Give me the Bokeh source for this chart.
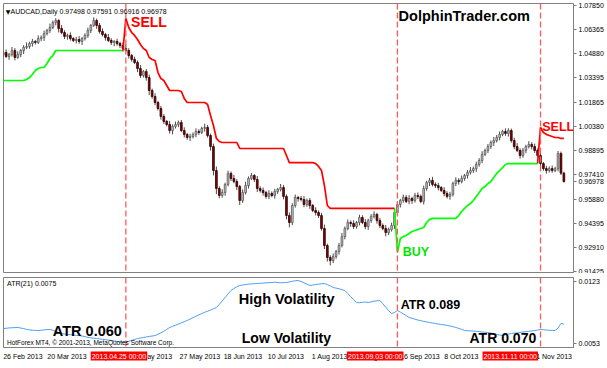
import numpy as np
from bokeh.plotting import figure
from bokeh.models import Range1d, FixedTicker, PrintfTickFormatter, Span, Label, ColumnDataSource
from bokeh.layouts import column
from bokeh.embed import file_html
from bokeh.resources import INLINE

# ---------------- data ----------------
header_text = "AUDCAD,Daily  0.97498 0.97591 0.96916 0.96978"
atr_header = "ATR(21) 0.0075"
copyright_text = "HotForex MT4, \u00a9 2001-2013, MetaQuotes Software Corp."

first_open = 1.0480
close = [
    1.0495, 1.0470, 1.0482, 1.0507, 1.0464, 1.0482, 1.0507, 1.0526, 1.0532, 1.0550,
    1.0563, 1.0557, 1.0581, 1.0587, 1.0612, 1.0631, 1.0649, 1.0680, 1.0692, 1.0643,
    1.0618, 1.0594, 1.0600, 1.0581, 1.0569, 1.0575, 1.0563, 1.0581, 1.0600, 1.0631,
    1.0662, 1.0692, 1.0662, 1.0625, 1.0606, 1.0587, 1.0569, 1.0557, 1.0563, 1.0550,
    1.0538, 1.0520, 1.0507, 1.0476, 1.0452, 1.0433, 1.0396, 1.0353, 1.0377, 1.0340,
    1.0260, 1.0223, 1.0186, 1.0149, 1.0100, 1.0069, 1.0050, 1.0013, 1.0038, 1.0050,
    1.0063, 1.0013, 0.9989, 0.9970, 0.9976, 0.9989, 1.0007, 1.0001, 1.0026, 1.0032,
    0.9982, 0.9914, 0.9766, 0.9655, 0.9612, 0.9630, 0.9680, 0.9748, 0.9717, 0.9698,
    0.9667, 0.9581, 0.9630, 0.9673, 0.9717, 0.9735, 0.9711, 0.9655, 0.9643, 0.9630,
    0.9606, 0.9624, 0.9612, 0.9636, 0.9649, 0.9661, 0.9606, 0.9488, 0.9445, 0.9550,
    0.9600, 0.9593, 0.9587, 0.9556, 0.9581, 0.9550, 0.9519, 0.9507, 0.9488, 0.9408,
    0.9303, 0.9229, 0.9210, 0.9235, 0.9266, 0.9303, 0.9358, 0.9408, 0.9445, 0.9439,
    0.9420, 0.9445, 0.9476, 0.9445, 0.9420, 0.9457, 0.9482, 0.9495, 0.9457, 0.9426,
    0.9408, 0.9383, 0.9402, 0.9426, 0.9507, 0.9556, 0.9581, 0.9600, 0.9575, 0.9593,
    0.9581, 0.9612, 0.9606, 0.9575, 0.9655, 0.9692, 0.9705, 0.9680, 0.9673, 0.9661,
    0.9643, 0.9624, 0.9606, 0.9618, 0.9686, 0.9705, 0.9698, 0.9717, 0.9735, 0.9754,
    0.9766, 0.9778, 0.9803, 0.9828, 0.9865, 0.9890, 0.9914, 0.9939, 0.9951, 0.9970,
    0.9989, 1.0007, 0.9995, 1.0013, 0.9951, 0.9914, 0.9890, 0.9859, 0.9890, 0.9914,
    0.9927, 0.9914, 0.9890, 0.9859, 0.9809, 0.9778, 0.9766, 0.9778, 0.9766, 0.9778,
    0.9871, 0.97498, 0.96978,
]
# upper / lower shadows beyond the body, in pips
up_pips = [
    12, 18, 10, 22, 15, 20, 9, 14, 25, 11,
    16, 8, 20, 13, 18, 10, 24, 12, 15, 9,
    22, 14, 11, 19, 8, 16, 21, 10, 13, 17,
    9, 20, 12, 15, 18, 10, 22, 14, 8, 16,
    11, 19, 25, 14, 10, 17, 13, 21, 9, 15,
    18, 12, 20, 10, 16, 14, 9, 22, 13, 18,
    11, 15, 20, 8, 17, 12, 19, 14, 10, 23,
    16, 12, 18, 25, 14, 20, 11, 17, 13, 22,
    15, 10, 19, 24, 12, 16, 9, 21, 14, 18,
    11, 20, 13, 17, 10, 22, 15, 12, 19, 14,
    18, 9, 16, 21, 12, 15, 10, 20, 13, 17,
    24, 11, 14, 19, 10, 16, 22, 12, 18, 13,
    20, 9, 17, 14, 21, 11, 15, 19, 10, 16,
    13, 22, 12, 18, 15, 20, 10, 17, 14, 21,
    11, 16, 19, 12, 18, 10, 15, 22, 13, 17,
    9, 20, 14, 16, 11, 19, 13, 18, 10, 15,
    21, 12, 17, 14, 20, 11, 16, 13, 22, 15,
    18, 10, 19, 14, 12, 17, 21, 13, 16, 11,
    20, 14, 18, 12, 15, 10, 17, 13, 19, 11,
    16, 12, 9,
]
dn_pips = [
    15, 10, 20, 12, 18, 9, 16, 22, 11, 14,
    19, 13, 10, 17, 21, 12, 15, 9, 18, 25,
    11, 16, 20, 13, 10, 18, 14, 22, 12, 15,
    17, 9, 21, 14, 12, 19, 10, 16, 23, 13,
    15, 20, 11, 18, 14, 10, 22, 16, 13, 19,
    28, 14, 17, 12, 20, 15, 11, 18, 24, 13,
    16, 10, 19, 14, 22, 12, 17, 15, 10, 20,
    13, 25, 30, 35, 18, 14, 20, 12, 16, 11,
    22, 28, 15, 12, 18, 10, 16, 21, 13, 19,
    14, 17, 11, 20, 15, 12, 18, 24, 30, 16,
    13, 19, 12, 17, 14, 21, 10, 18, 15, 13,
    22, 25, 30, 16, 14, 19, 12, 17, 11, 20,
    15, 13, 18, 10, 16, 21, 14, 12, 19, 15,
    11, 24, 16, 13, 20, 12, 18, 14, 10, 17,
    21, 13, 16, 11, 19, 14, 22, 12, 15, 18,
    10, 17, 13, 20, 12, 16, 19, 11, 14, 18,
    12, 15, 20, 13, 17, 10, 16, 14, 21, 12,
    18, 11, 15, 19, 13, 16, 10, 20, 14, 17,
    12, 18, 15, 11, 16, 13, 19, 12, 14, 10,
    17, 12, 6,
]

# ATR trailing stop (start bar index, per-bar values)
green1_start = 0
green1 = [1.0322] * 8 + [1.0328, 1.0340, 1.0359, 1.0384, 1.0396, 1.0402, 1.0402,
                         1.0427, 1.0458, 1.0476] + [1.0507] * 24
red1_start = 41
red1 = ([1.0507, 1.0705, 1.0649, 1.0618, 1.0600, 1.0575, 1.0544, 1.0520, 1.0507,
         1.0464, 1.0452, 1.0445, 1.0371, 1.0334, 1.0322, 1.0291] + [1.0260] * 4
        + [1.0254, 1.0211] + [1.0186] * 7 + [1.0174, 1.0106, 1.0044, 0.9964, 0.9945]
        + [0.9939] * 6 + [0.9902] * 16 + [0.9859] + [0.9815] * 9
        + [0.9809, 0.9791, 0.9766, 0.9673, 0.9550] + [0.9532] * 23)
green2_start = 134
green2 = ([0.9532, 0.9260, 0.9346, 0.9358, 0.9365, 0.9377, 0.9389, 0.9396, 0.9402,
           0.9408, 0.9414, 0.9445, 0.9464] + [0.9470] * 9
          + [0.9488, 0.9513, 0.9532, 0.9550, 0.9562, 0.9581, 0.9606, 0.9630, 0.9655,
             0.9667, 0.9686, 0.9698, 0.9723, 0.9748, 0.9766, 0.9784, 0.9803]
          + [0.9809] * 11)
red2_start = 183
red2 = [0.9809, 1.0032, 1.0001, 0.9989, 0.9982, 0.9976, 0.9970, 0.9970, 0.9964, 0.9964]

# ATR(21), in units of 1e-5
atr_e5 = [
    699, 702, 706, 708, 710, 711,
    705, 698, 690, 684, 680, 678, 677,
    680, 684, 687, 688,
    680, 668, 655, 643,
    638, 634, 630, 626, 622, 620,
    615, 608, 600, 595, 590, 586,
    582, 578, 574, 569, 564,
    560, 553, 547, 541,
    545, 555, 565, 575, 586,
    592, 598, 604, 610, 615, 620,
    635, 650, 668, 690, 711,
    724, 737, 750, 763, 776, 790,
    806, 822, 838, 853, 869,
    882, 895, 908, 922, 936,
    972, 1010, 1049, 1090, 1128,
    1150, 1170, 1185,
    1190, 1195, 1200, 1203, 1205, 1207,
    1210, 1212, 1215, 1217, 1219,
    1222, 1218, 1215, 1217, 1219,
    1225, 1232, 1238, 1241,
    1230, 1215, 1200, 1185,
    1190, 1196, 1200, 1204, 1207,
    1195, 1180, 1162,
    1155, 1148, 1138, 1128,
    1095, 1060, 1025, 993,
    990, 995, 998, 993,
    1000, 1008, 1012, 1015,
    980, 940, 900, 869,
    880, 903,
    885, 865, 845, 824,
    815, 805, 795, 788, 780, 774, 767,
    762, 756, 750, 745, 740, 735,
    728, 720, 712, 700, 690, 677,
    675, 673, 670, 668, 665, 660, 657, 654,
    648, 640, 632, 626, 620,
    628, 636, 642, 648, 650, 654,
    660, 664, 668, 672, 677, 682, 688,
    686, 682, 680, 678, 677,
    705, 756, 750,
]

last_price = 0.96978
price_ticks = [1.07850, 1.06365, 1.04880, 1.03395, 1.01865, 1.00380, 0.98895,
               0.97410, 0.95880, 0.94395, 0.92910, 0.91425]
atr_ticks = [0.0123, 0.0053]
date_tick_idx = [0, 16, 32, 48, 64, 80, 96, 112, 128, 144, 160, 176, 192]
date_tick_labels = ["26 Feb 2013", "20 Mar 2013", "11 Apr 2013", "3 May 2013",
                    "27 May 2013", "18 Jun 2013", "10 Jul 2013", "1 Aug 2013",
                    "23 Aug 2013", "16 Sep 2013", "8 Oct 2013", "30 Oct 2013",
                    "21 Nov 2013"]
signal_idx = [42, 135, 184]
signal_labels = ["2013.04.25 00:00", "2013.09.03 00:00", "2013.11.11 00:00"]

# ---------------- derived ----------------
n = len(close)
lens = [len(up_pips), len(dn_pips), len(atr_e5)]
if any(l != n for l in lens):
    raise ValueError(f"length mismatch {n} {lens}")
opens = [first_open] + close[:-1]
tops = [max(o, c) for o, c in zip(opens, close)]
bots = [min(o, c) for o, c in zip(opens, close)]
highs = [t + u / 10000 for t, u in zip(tops, up_pips)]
lows = [b - d / 10000 for b, d in zip(bots, dn_pips)]
idx = list(range(n))
fills = ["#c4c4c4" if c >= o else "#8b0000" for o, c in zip(opens, close)]
lines = ["#5a5a5a" if c >= o else "#2a0000" for o, c in zip(opens, close)]


def expand(parts):
    arr = np.full(n, np.nan)
    for start, vals in parts:
        for k, v in enumerate(vals):
            arr[start + k] = v
    return arr


green_full = expand([(green1_start, green1), (green2_start, green2)])
red_full = expand([(red1_start, red1), (red2_start, red2)])
atr = np.array(atr_e5) / 100000.0

FONT = "Liberation Sans"
GRAY = "#808080"
W = 607
LB, RB = 3, 34
X0, X1 = 0.1, 195.3
xr = Range1d(X0, X1)
bar_px = (W - LB - RB) / (X1 - X0)
xr_dates = Range1d(X0, X0 + (W - LB) / bar_px)


def style_right_axis(ax, ticks, fmt):
    ax.ticker = FixedTicker(ticks=ticks)
    ax.formatter = PrintfTickFormatter(format=fmt)
    ax.axis_line_color = GRAY
    ax.major_tick_line_color = GRAY
    ax.major_tick_out = 3
    ax.major_tick_in = 0
    ax.minor_tick_out = 0
    ax.minor_tick_in = 0
    ax.major_label_standoff = 2
    ax.major_label_text_font = FONT
    ax.major_label_text_font_size = "7px"
    ax.major_label_text_color = "black"


# ---------------- main price panel ----------------
main = figure(width=W, height=273, x_range=xr, y_range=Range1d(0.91363, 1.07973),
              output_backend="svg", toolbar_location=None,
              min_border_left=LB, min_border_right=RB, min_border_top=3, min_border_bottom=1,
              x_axis_location=None, y_axis_location="right",
              background_fill_color="white", border_fill_color="white")
main.outline_line_color = GRAY
main.grid.visible = False
style_right_axis(main.yaxis[0], sorted(price_ticks + [last_price]), "%.5f")

src = ColumnDataSource(dict(x=idx, top=tops, bottom=bots, high=highs, low=lows,
                            fill=fills, line=lines))
main.segment(x0="x", y0="low", x1="x", y1="high", source=src, line_color="#4a4a4a", line_width=1)
main.vbar(x="x", width=0.6, top="top", bottom="bottom", source=src,
          fill_color="fill", line_color="line", line_width=0.8)
main.line(idx, green_full, line_color="#00ff00", line_width=1.7)
main.line(idx, red_full, line_color="#ff0000", line_width=1.7)

for s in signal_idx:
    main.add_layout(Span(location=s, dimension="height", line_color="#ff5a5a",
                         line_dash="6 3", line_width=1.3))

main.add_layout(Label(x=0.9, y=1.0748, text="\u25bc", text_font="DejaVu Sans",
                      text_font_size="6px", text_color="black", text_baseline="middle"))
main.add_layout(Label(x=2.5, y=1.0748, text=header_text, text_font=FONT,
                      text_font_size="7px", text_color="black", text_baseline="middle"))
main.add_layout(Label(x=43.8, y=1.0680, text="SELL", text_font=FONT, text_font_style="bold",
                      text_font_size="14px", text_color="#ff0000", text_baseline="middle"))
main.add_layout(Label(x=135.4, y=1.0723, text="DolphinTrader.com", text_font=FONT,
                      text_font_style="bold", text_font_size="14.5px", text_color="black",
                      text_baseline="middle"))
main.add_layout(Label(x=184.6, y=1.0032, text="SELL", text_font=FONT, text_font_style="bold",
                      text_font_size="12.5px", text_color="#ff0000", text_baseline="middle"))
main.add_layout(Label(x=136.8, y=0.9260, text="BUY", text_font=FONT, text_font_style="bold",
                      text_font_size="12.5px", text_color="#00e600", text_baseline="middle"))

# ---------------- ATR panel ----------------
sub = figure(width=W, height=75, x_range=xr, y_range=Range1d(0.00474, 0.01275),
             output_backend="svg", toolbar_location=None,
             min_border_left=LB, min_border_right=RB, min_border_top=4, min_border_bottom=0,
             x_axis_location=None, y_axis_location="right",
             background_fill_color="white", border_fill_color="white")
sub.outline_line_color = GRAY
sub.grid.visible = False
style_right_axis(sub.yaxis[0], atr_ticks, "%.4f")

sub.line(idx, atr, line_color="#4d9ff0", line_width=1)
for s in signal_idx:
    sub.add_layout(Span(location=s, dimension="height", line_color="#ff5a5a",
                        line_dash="6 3", line_width=1.3))

sub.add_layout(Label(x=1.3, y=0.01207, text=atr_header, text_font=FONT, text_font_size="7px",
                     text_color="black", text_baseline="middle"))
sub.add_layout(Label(x=1.3, y=0.00545, text=copyright_text, text_font=FONT,
                     text_font_size="6.5px", text_color="black", text_baseline="middle"))
big = dict(text_font=FONT, text_font_style="bold", text_color="black", text_baseline="middle")
sub.add_layout(Label(x=80.7, y=0.01038, text="High Volatility", text_font_size="14.5px", **big))
sub.add_layout(Label(x=136.1, y=0.00970, text="ATR 0.089", text_font_size="12.5px", **big))
sub.add_layout(Label(x=17.0, y=0.00666, text="ATR 0.060", text_font_size="14.5px", **big))
sub.add_layout(Label(x=81.7, y=0.00590, text="Low Volatility", text_font_size="14px", **big))
sub.add_layout(Label(x=159.7, y=0.00590, text="ATR 0.070", text_font_size="14px", **big))

# ---------------- time scale strip ----------------
dates = figure(width=W, height=20, x_range=xr_dates, y_range=Range1d(0, 20),
               output_backend="svg", toolbar_location=None,
               min_border_left=LB, min_border_right=0, min_border_top=0, min_border_bottom=0,
               x_axis_location=None, y_axis_location=None,
               background_fill_color="white", border_fill_color="white")
dates.outline_line_color = None
dates.grid.visible = False
for t, lab in zip(date_tick_idx, date_tick_labels):
    dates.add_layout(Label(x=t, y=16, text=lab, text_font=FONT, text_font_size="7px",
                           text_color="black", text_align="left", text_baseline="top"))
for s, lab in zip(signal_idx, signal_labels):
    dates.add_layout(Label(x=s, y=17, text=lab, text_font=FONT, text_font_size="7px",
                           text_color="white", text_align="center", text_baseline="top",
                           background_fill_color="#ff0000", padding=1))

layout = column(main, sub, dates, spacing=0)
open("out.html", "w").write(file_html(layout, INLINE))
